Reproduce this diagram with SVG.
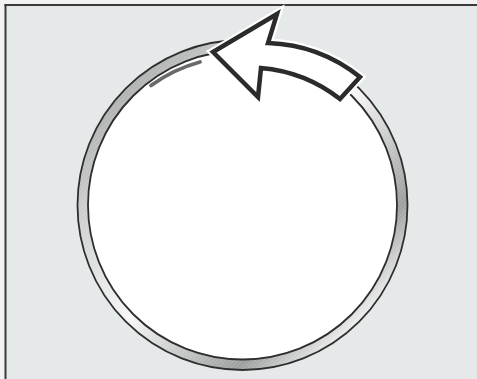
<svg xmlns="http://www.w3.org/2000/svg" width="477" height="379" viewBox="0 0 477 379">
  <defs>
    <linearGradient id="metal" gradientUnits="userSpaceOnUse" x1="126" y1="89" x2="359" y2="322">
      <stop offset="0" stop-color="#b0b2b2"/>
      <stop offset="0.15" stop-color="#cacccc"/>
      <stop offset="0.5" stop-color="#f7f7f7"/>
      <stop offset="0.84" stop-color="#9c9e9e"/>
      <stop offset="1" stop-color="#eeeeee"/>
    </linearGradient>
    <pattern id="hatch" patternUnits="userSpaceOnUse" width="3" height="3" patternTransform="rotate(45)">
      <line x1="0" y1="0" x2="0" y2="3" stroke="#ffffff" stroke-width="0.8" stroke-opacity="0.35"/>
    </pattern>
    <style>
      .edge { fill: none; stroke: #2e2e2e; stroke-width: 1.8; }
      .halo { fill: none; stroke: #ffffff; stroke-width: 9; stroke-linejoin: miter; }
      .arrow { fill: #ffffff; stroke: #2b2b2b; stroke-width: 4.5; stroke-linejoin: miter; }
    </style>
  </defs>
  <rect x="0" y="0" width="477" height="379" fill="#f2f2f2"/>
  <rect x="5.5" y="5" width="472" height="374" fill="#e5e9ea"/>
  <g id="frame" fill="none" stroke="#3a3a3a" stroke-width="2">
    <line x1="4.5" y1="5" x2="477" y2="5"/>
    <line x1="5.5" y1="4" x2="5.5" y2="379"/>
  </g>
  <g id="ring">
    <path d="M77.5,205 a165,165 0 1,0 330,0 a165,165 0 1,0 -330,0 Z M88,205 a154.5,154.5 0 1,0 309,0 a154.5,154.5 0 1,0 -309,0 Z" fill="url(#metal)" fill-rule="evenodd"/>
    <path d="M77.5,205 a165,165 0 1,0 330,0 a165,165 0 1,0 -330,0 Z M88,205 a154.5,154.5 0 1,0 309,0 a154.5,154.5 0 1,0 -309,0 Z" fill="url(#hatch)" fill-rule="evenodd"/>
    <circle cx="242.5" cy="205" r="154.5" fill="#ffffff"/>
    <circle class="edge" cx="242.5" cy="205" r="165"/>
    <circle class="edge" cx="242.5" cy="205" r="154.5"/>
    <path d="M151,85.5 A150,150 0 0,1 200,62" fill="none" stroke="#6a6a6a" stroke-width="3.8" stroke-linecap="round"/>
  </g>
  <g id="arrow">
    <path class="halo" d="M213,52 L277,14 L268,43 A156,156 0 0,1 360,77 L340,99 A149,149 0 0,0 261,68 L258,97 Z"/>
    <path class="arrow" d="M213,52 L277,14 L268,43 A156,156 0 0,1 360,77 L340,99 A149,149 0 0,0 261,68 L258,97 Z"/>
  </g>
</svg>
